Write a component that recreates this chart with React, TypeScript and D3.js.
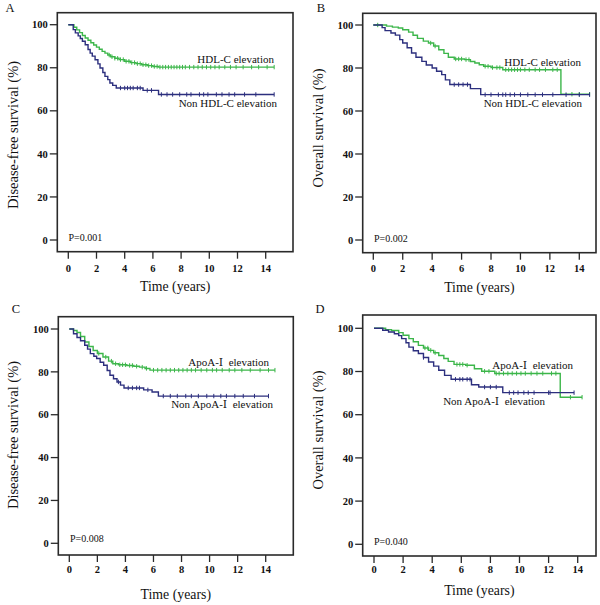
import React from "react";
import * as d3 from "d3";

const X_TICKS = [0, 2, 4, 6, 8, 10, 12, 14];
const Y_TICKS = [0, 20, 40, 60, 80, 100];

const A_HDL_T = [0, 0.4, 0.6, 0.8, 1.0, 1.2, 1.4, 1.6, 1.8, 2.0, 2.2, 2.4, 2.6, 2.8, 3.0, 3.3, 3.6, 4.0, 4.4, 4.8, 5.2, 5.6, 6.0, 6.4, 14.6];
const A_HDL_S = [100, 98.8, 97.6, 96.3, 95, 93.8, 92.8, 91.6, 90.6, 89.6, 88.6, 87.6, 86.8, 85.9, 85.1, 84.4, 83.8, 83.0, 82.4, 81.9, 81.4, 81.0, 80.6, 80.3, 80.3];
const A_HDL_C = [2.9, 3.1, 3.3, 3.5, 3.7, 3.9, 4.1, 4.3, 4.5, 4.7, 4.9, 5.1, 5.3, 5.5, 5.7, 5.9, 6.1, 6.3, 6.5, 6.7, 6.9, 7.1, 7.3, 7.5, 7.7, 7.9, 8.1, 8.3, 8.6, 8.9, 9.2, 9.5, 9.8, 10.1, 10.4, 10.7, 11.1, 11.5, 11.9, 12.4, 13.0, 13.5, 14.1, 14.6];
const A_NON_T = [0, 0.35, 0.5, 0.7, 0.85, 1.0, 1.2, 1.4, 1.55, 1.7, 1.9, 2.1, 2.25, 2.45, 2.6, 2.8, 2.95, 3.15, 3.4, 5.3, 6.4, 14.6];
const A_NON_S = [100, 97.7, 96.2, 94.8, 93.6, 92.3, 90.7, 88.5, 86.8, 85.4, 83.7, 81.8, 79.9, 77.8, 76.0, 74.5, 72.9, 71.8, 70.6, 69.5, 67.6, 67.6];
const A_NON_C = [3.7, 4.0, 4.2, 4.4, 4.6, 4.9, 5.1, 5.6, 5.9, 6.6, 7.0, 7.4, 7.9, 8.4, 8.7, 9.3, 9.6, 9.9, 10.5, 10.9, 11.4, 11.8, 12.5, 13.3, 14.6];

const B_HDL_T = [0, 0.9, 1.3, 1.7, 2.0, 2.4, 2.7, 3.0, 3.4, 3.75, 4.1, 4.45, 4.8, 5.1, 5.5, 6.2, 6.6, 6.9, 7.2, 7.5, 8.0, 8.8, 12.75, 14.7];
const B_HDL_S = [100, 99.5, 99.0, 98.6, 97.8, 96.7, 95.2, 93.8, 92.5, 91.6, 90.2, 88.5, 86.8, 85.0, 84.2, 83.9, 83.0, 82.3, 81.5, 80.8, 80.2, 79.2, 67.8, 67.8];
const B_HDL_C = [0.3, 3.9, 4.2, 5.6, 5.8, 6.0, 6.3, 6.5, 7.6, 7.8, 8.1, 8.4, 8.6, 9.0, 9.2, 9.4, 9.6, 9.8, 10.0, 10.3, 10.6, 11.0, 11.3, 11.7, 12.2, 12.5, 13.5, 14.0, 14.7];
const B_NON_T = [0, 0.6, 0.8, 1.2, 1.5, 1.8, 2.0, 2.3, 2.6, 2.9, 3.3, 3.6, 4.0, 4.3, 4.65, 4.9, 5.2, 6.6, 7.3, 14.7];
const B_NON_S = [100, 98.8, 97.4, 96.3, 95.3, 93.2, 91.6, 89.4, 87.0, 85.0, 83.1, 81.4, 80.0, 78.5, 76.9, 74.5, 72.3, 70.4, 67.6, 67.6];
const B_NON_C = [5.5, 5.8, 6.1, 6.4, 7.6, 8.0, 8.5, 8.8, 9.0, 9.3, 9.6, 10.0, 10.5, 11.0, 11.5, 12.2, 13.1, 14.0, 14.7];

const C_APO_T = [0, 0.3, 0.55, 0.8, 1.1, 1.4, 1.7, 2.0, 2.4, 2.8, 3.1, 3.5, 4.1, 4.6, 5.0, 5.4, 5.75, 14.66];
const C_APO_S = [100, 99.3, 98.4, 96.5, 93.9, 91.8, 90.0, 88.6, 86.9, 85.0, 83.8, 83.3, 83.0, 82.6, 82.2, 81.6, 80.8, 80.8];
const C_APO_C = [2.1, 2.6, 3.0, 3.3, 3.6, 3.8, 4.0, 4.3, 4.5, 4.8, 5.2, 5.5, 6.0, 6.3, 6.6, 6.9, 7.2, 7.5, 7.8, 8.1, 8.4, 8.7, 9.0, 9.4, 9.8, 10.2, 10.5, 10.9, 11.4, 11.8, 12.3, 12.9, 13.6, 14.2, 14.66];
const C_NON_T = [0, 0.3, 0.55, 0.8, 1.1, 1.3, 1.5, 1.75, 1.95, 2.2, 2.45, 2.7, 2.9, 3.15, 3.4, 3.65, 3.9, 5.3, 5.9, 6.35, 14.2];
const C_NON_S = [100, 97.8, 96.0, 94.5, 92.4, 90.6, 88.5, 87.3, 86.2, 84.5, 83.1, 80.6, 78.4, 76.8, 75.3, 73.8, 72.5, 71.6, 70.6, 68.7, 68.7];
const C_NON_C = [3.5, 4.2, 4.5, 4.8, 5.0, 5.6, 6.7, 7.2, 7.7, 8.3, 8.7, 9.2, 9.8, 10.3, 10.8, 11.2, 11.8, 12.4, 13.2, 14.2];

const D_APO_T = [0, 0.8, 1.2, 1.7, 2.0, 2.4, 2.7, 3.05, 3.4, 3.75, 4.1, 4.45, 4.8, 5.1, 5.5, 6.3, 6.9, 7.4, 8.3, 12.8, 14.3];
const D_APO_S = [100, 99.4, 99.0, 98.0, 96.8, 95.2, 93.8, 92.1, 90.9, 89.8, 88.7, 87.4, 86.0, 84.7, 83.3, 82.9, 81.3, 80.1, 79.1, 68.1, 68.1];
const D_APO_C = [3.5, 3.7, 3.9, 4.2, 5.7, 5.9, 6.1, 6.4, 7.6, 7.9, 8.4, 8.6, 8.9, 9.2, 9.5, 9.8, 10.1, 10.4, 10.8, 11.2, 11.6, 12.2, 12.5, 13.5, 14.3];
const D_NON_T = [0, 0.6, 1.0, 1.4, 1.7, 1.9, 2.2, 2.4, 2.7, 3.05, 3.4, 3.75, 4.1, 4.45, 4.85, 5.3, 6.7, 7.2, 8.85, 13.75];
const D_NON_S = [100, 99.1, 98.3, 97.5, 96.6, 95.2, 93.3, 91.3, 89.6, 88.3, 86.5, 84.4, 82.5, 80.6, 78.2, 76.4, 73.9, 72.8, 70.2, 70.2];
const D_NON_C = [3.4, 5.6, 5.9, 6.1, 6.4, 6.6, 7.6, 8.0, 8.4, 9.3, 9.6, 9.9, 10.3, 10.6, 11.0, 12.0, 12.1, 13.75];

const GREEN = "#3cb64a";
const NAVY = "#2c2f7e";
const SERIF = "'Liberation Serif', 'Times New Roman', serif";
const ROMAN = "'DejaVu Serif', 'Liberation Serif', serif";

type Curve = { t: number[]; s: number[]; c: number[]; color: string };
type Label = { pre: string; roman?: string; post?: string; x: number; y: number };
type PanelDef = {
  letter: string; lx: number; ly: number;
  frame: { l: number; r: number; t: number; b: number };
  x0: number; x14: number; y100: number; y0: number;
  ytitle: string; ytx: number; yty: number;
  xtitleY: number; xtickY: number;
  p: string; px: number; py: number;
  curves: Curve[];
  labels: Label[];
};

const PANELS: PanelDef[] = [
  {
    letter: "A", lx: 10, ly: 12,
    frame: { l: 57.3, r: 293, t: 12.7, b: 251.7 },
    x0: 68.3, x14: 265.7, y100: 24.7, y0: 240,
    ytitle: "Disease-free survival (%)", ytx: 13, yty: 135,
    xtitleY: 291, xtickY: 271.5,
    p: "P=0.001", px: 68.5, py: 241,
    curves: [
      { t: A_HDL_T, s: A_HDL_S, c: A_HDL_C, color: GREEN },
      { t: A_NON_T, s: A_NON_S, c: A_NON_C, color: NAVY },
    ],
    labels: [
      { pre: "HDL-C elevation", x: 274, y: 63 },
      { pre: "Non HDL-C elevation", x: 277, y: 107 },
    ],
  },
  {
    letter: "B", lx: 321, ly: 12,
    frame: { l: 362.7, r: 596, t: 13.3, b: 252.7 },
    x0: 373.3, x14: 579.3, y100: 25, y0: 240,
    ytitle: "Overall survival (%)", ytx: 318, yty: 128,
    xtitleY: 291.5, xtickY: 272,
    p: "P=0.002", px: 374, py: 242,
    curves: [
      { t: B_HDL_T, s: B_HDL_S, c: B_HDL_C, color: GREEN },
      { t: B_NON_T, s: B_NON_S, c: B_NON_C, color: NAVY },
    ],
    labels: [
      { pre: "HDL-C elevation", x: 581, y: 66 },
      { pre: "Non HDL-C elevation", x: 582, y: 107 },
    ],
  },
  {
    letter: "C", lx: 16, ly: 313,
    frame: { l: 58.3, r: 293.3, t: 316.7, b: 555 },
    x0: 69.3, x14: 265.7, y100: 329, y0: 543.3,
    ytitle: "Disease-free survival (%)", ytx: 13, yty: 435,
    xtitleY: 599, xtickY: 573,
    p: "P=0.008", px: 70, py: 542,
    curves: [
      { t: C_APO_T, s: C_APO_S, c: C_APO_C, color: GREEN },
      { t: C_NON_T, s: C_NON_S, c: C_NON_C, color: NAVY },
    ],
    labels: [
      { pre: "ApoA-", roman: "Ⅰ", post: "  elevation", x: 269, y: 366 },
      { pre: "Non ApoA-", roman: "Ⅰ", post: "  elevation", x: 273, y: 408 },
    ],
  },
  {
    letter: "D", lx: 320, ly: 313,
    frame: { l: 362.7, r: 596, t: 315, b: 556 },
    x0: 374, x14: 577.7, y100: 328.3, y0: 544.3,
    ytitle: "Overall survival (%)", ytx: 318, yty: 430,
    xtitleY: 595, xtickY: 572.5,
    p: "P=0.040", px: 374, py: 545,
    curves: [
      { t: D_APO_T, s: D_APO_S, c: D_APO_C, color: GREEN },
      { t: D_NON_T, s: D_NON_S, c: D_NON_C, color: NAVY },
    ],
    labels: [
      { pre: "ApoA-", roman: "Ⅰ", post: "  elevation", x: 573, y: 369 },
      { pre: "Non ApoA-", roman: "Ⅰ", post: "  elevation", x: 545, y: 405 },
    ],
  },
];

function survAt(curve: Curve, time: number): number {
  const i = d3.bisectRight(curve.t, time) - 1;
  return curve.s[Math.max(0, Math.min(i, curve.s.length - 1))];
}

function Panel({ d }: { d: PanelDef }) {
  const x = d3.scaleLinear().domain([0, 14]).range([d.x0, d.x14]);
  const y = d3.scaleLinear().domain([0, 100]).range([d.y0, d.y100]);
  const line = d3
    .line<[number, number]>()
    .x((p) => x(p[0]))
    .y((p) => y(p[1]))
    .curve(d3.curveStepAfter);
  const f = d.frame;
  const xtitleX = (f.l + f.r) / 2;
  return (
    <g>
      <text x={d.lx} y={d.ly} fontFamily={SERIF} fontSize={12.5} textAnchor="middle" fill="#111">
        {d.letter}
      </text>
      {d.curves.map((c, ci) => (
        <g key={ci}>
          <path
            d={line(c.t.map((t, i) => [t, c.s[i]] as [number, number])) || ""}
            fill="none"
            stroke={c.color}
            strokeWidth={1.4}
          />
          {c.c.map((ct, k) => (
            <line
              key={k}
              x1={x(ct)}
              x2={x(ct)}
              y1={y(survAt(c, ct)) - 2.2}
              y2={y(survAt(c, ct)) + 2.2}
              stroke={c.color}
              strokeWidth={1}
            />
          ))}
        </g>
      ))}
      <rect x={f.l} y={f.t} width={f.r - f.l} height={f.b - f.t} fill="none" stroke="#2a2a2a" strokeWidth={1.6} />
      {Y_TICKS.map((v) => (
        <g key={v}>
          <line x1={f.l - 7.5} x2={f.l} y1={y(v)} y2={y(v)} stroke="#2a2a2a" strokeWidth={1.3} />
          <text
            x={f.l - 9.5}
            y={y(v)}
            dy="0.35em"
            textAnchor="end"
            fontFamily={SERIF}
            fontWeight="bold"
            fontSize={10.5}
            fill="#111"
          >
            {v}
          </text>
        </g>
      ))}
      {X_TICKS.map((v) => (
        <g key={v}>
          <line x1={x(v)} x2={x(v)} y1={f.b} y2={f.b + 7} stroke="#2a2a2a" strokeWidth={1.3} />
          <text
            x={x(v)}
            y={d.xtickY}
            textAnchor="middle"
            fontFamily={SERIF}
            fontWeight="bold"
            fontSize={10.5}
            fill="#111"
          >
            {v}
          </text>
        </g>
      ))}
      <text x={xtitleX} y={d.xtitleY} textAnchor="middle" fontFamily={SERIF} fontSize={13.8} fill="#111">
        Time (years)
      </text>
      <text
        transform={`translate(${d.ytx},${d.yty}) rotate(-90)`}
        textAnchor="middle"
        dy="0.35em"
        fontFamily={SERIF}
        fontSize={14.5}
        fill="#111"
      >
        {d.ytitle}
      </text>
      <text x={d.px} y={d.py} fontFamily={SERIF} fontSize={10} fill="#111">
        {d.p}
      </text>
      {d.labels.map((l, i) => (
        <text
          key={i}
          x={l.x}
          y={l.y}
          textAnchor="end"
          fontFamily={SERIF}
          fontSize={11}
          fill="#111"
          style={{ whiteSpace: "pre" }}
        >
          {l.pre}
          {l.roman ? <tspan fontFamily={ROMAN}>{l.roman}</tspan> : null}
          {l.post ? l.post : null}
        </text>
      ))}
    </g>
  );
}

export default function App() {
  return (
    <svg
      width={600}
      height={605}
      viewBox="0 0 600 605"
      style={{ position: "absolute", left: 0, top: 0, background: "#fff" }}
    >
      <rect x={0} y={0} width={600} height={605} fill="#fff" />
      {PANELS.map((p) => (
        <Panel key={p.letter} d={p} />
      ))}
    </svg>
  );
}
